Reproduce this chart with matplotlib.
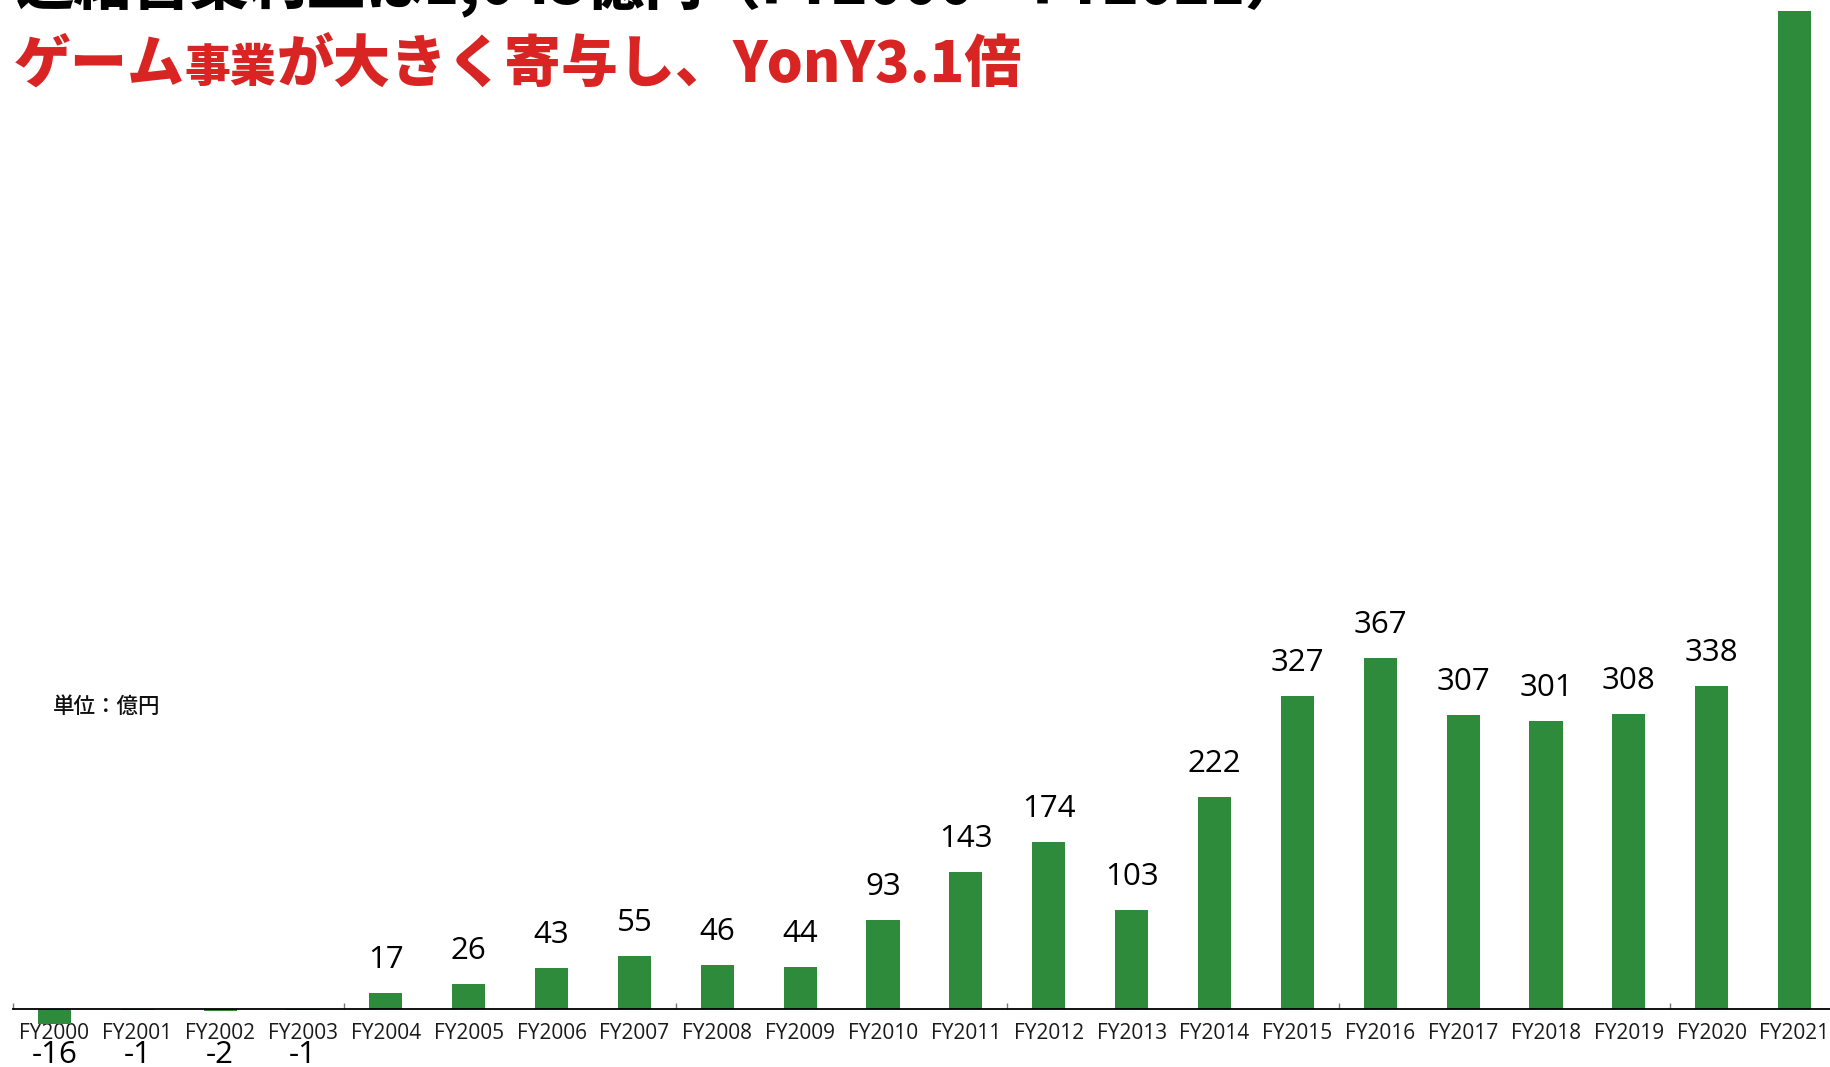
import numpy as np
import matplotlib
matplotlib.use("Agg")
import matplotlib.pyplot as plt

years = ['FY2000', 'FY2001', 'FY2002', 'FY2003', 'FY2004', 'FY2005', 'FY2006', 'FY2007',
         'FY2008', 'FY2009', 'FY2010', 'FY2011', 'FY2012', 'FY2013', 'FY2014', 'FY2015',
         'FY2016', 'FY2017', 'FY2018', 'FY2019', 'FY2020', 'FY2021']
profit = [-16, -1, -2, -1, 17, 26, 43, 55, 46, 44, 93, 143, 174, 103, 222, 327,
          367, 307, 301, 308, 338, 1043]

title = '連結営業利益は1,043億円（FY2000～FY2021）'
subtitle = [('ゲーム', 41), ('事業', 33), ('が大きく寄与し、', 41), ('YonY3.1倍', 41)]
unit = '単位：億円'

green = '#2e8b3c'
red = '#d92424'
cjk = ['Noto Sans CJK JP', 'DejaVu Sans']
num = ['Open Sans', 'DejaVu Sans']

W, H = 1831, 1067
fig = plt.figure(figsize=(W / 100, H / 100), dpi=100)
ax = fig.add_axes([13 / W, 0, 1 - 13 / W, 1])

x = np.arange(len(years))
ax.bar(x, profit, width=0.4, color=green, zorder=2)
ax.set_xlim(-0.5, 21.44)
ax.set_ylim(-60.6, 1054.3)

for s in ['left', 'top', 'right']:
    ax.spines[s].set_visible(False)
ax.spines['bottom'].set_position(('data', 0))
ax.spines['bottom'].set_linewidth(1.3)
ax.spines['bottom'].set_zorder(3)
ax.set_yticks([])
ax.set_xticks(x)
ax.set_xticklabels(years, fontsize=15, family=num, color='#1a1a1a')
ax.tick_params(axis='x', which='major', length=0, pad=10)
ax.set_xticks(np.arange(-0.5, 21, 4), minor=True)
ax.tick_params(axis='x', which='minor', length=4.5, direction='in', color='#777777', width=1)

# value labels (negatives sit under the year labels, like the original)
for i, v in enumerate(profit):
    if v >= 0:
        ax.annotate(str(v), (i, v), xytext=(0, 25), textcoords='offset pixels',
                    ha='center', va='baseline', fontsize=22.5, family=num, color='black',
                    annotation_clip=False)
    else:
        ax.annotate(str(v), (i, 0), xytext=(0, -54), textcoords='offset pixels',
                    ha='center', va='baseline', fontsize=22.5, family=num, color='black',
                    annotation_clip=False)

fig.text(53 / W, 1 - 713 / H, unit, fontsize=15.5, family=cjk, weight='medium',
         color='#111111', ha='left', va='baseline')

# cropped headline at the very top
fig.text(16 / W, 1 - 3 / H, title, fontsize=42, family=cjk, weight='black',
         color='black', ha='left', va='baseline')

# red subtitle built from pieces of different sizes
renderer = fig.canvas.get_renderer()
px = 14
for s, size in subtitle:
    t = fig.text(px / W, 1 - 82 / H, s, fontsize=size, family=cjk, weight='black',
                 color=red, ha='left', va='baseline')
    bb = t.get_window_extent(renderer)
    px = bb.x1

fig.savefig('out.png', dpi=100)
